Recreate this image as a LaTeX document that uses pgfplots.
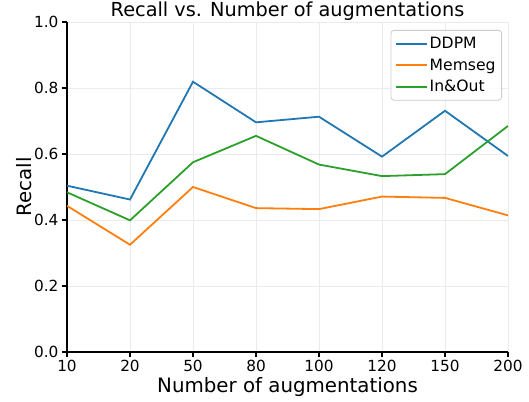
\documentclass[border=0pt]{standalone}
\usepackage{fontspec}
\setmainfont{DejaVu Sans}
\usepackage{pgfplots}
\pgfplotsset{compat=1.18}
\definecolor{cblue}{HTML}{1F77B4}
\definecolor{corange}{HTML}{FF7F0E}
\definecolor{cgreen}{HTML}{2CA02C}
\definecolor{gridc}{HTML}{EBEBEB}
\begin{document}
\begin{tikzpicture}[x=1bp,y=1bp]
\begin{axis}[
  at={(0,0)}, anchor=south west,
  width=441bp, height=330bp, scale only axis,
  xmin=0, xmax=7, ymin=0, ymax=1,
  axis x line*=bottom, axis y line*=left,
  axis line style={line width=1.1bp, black},
  xtick={0,1,2,3,4,5,6,7},
  xticklabels={10,20,50,80,100,120,150,200},
  ytick={0,0.2,0.4,0.6,0.8,1.0},
  yticklabel style={/pgf/number format/fixed, /pgf/number format/fixed zerofill, /pgf/number format/precision=1},
  /pgf/number format/assume math mode=true,
  tick label style={font=\fontsize{15.3bp}{17bp}\selectfont},
  tick align=outside, major tick length=5bp,
  tick style={line width=1.1bp, black},
  grid=major, grid style={line width=0.8bp, gridc},
  every axis title shift=0pt,
  title={Recall vs. Number of augmentations},
  title style={at={(axis description cs:0.5,1.018)}, anchor=base, yshift=0pt, font=\fontsize{19.3bp}{22bp}\selectfont, inner sep=0pt},
  xlabel={Number of augmentations},
  xlabel style={at={(axis description cs:0.5,-0.1242)}, anchor=base, font=\fontsize{19.8bp}{22bp}\selectfont, inner sep=0pt},
  ylabel={Recall},
  ylabel style={at={(axis description cs:-0.0794,0.5)}, anchor=base, font=\fontsize{19.8bp}{22bp}\selectfont, inner sep=0pt},
  legend style={at={(axis description cs:1,1)}, anchor=north east, xshift=-6bp, yshift=-8bp,
    font=\fontsize{15.6bp}{17bp}\selectfont, draw=black!20, rounded corners=3bp,
    fill=white, fill opacity=0.8, text opacity=1, inner xsep=4bp, inner ysep=5bp, row sep=4.5bp,
    line width=0.8bp, /tikz/every even column/.append style={column sep=5bp}},
  legend cell align=left,
  legend image code/.code={\draw[#1] (0bp,0bp) -- (31bp,0bp);},
]
\addplot[cblue, line width=1.8bp] coordinates {(0,0.504) (1,0.462) (2,0.819) (3,0.696) (4,0.713) (5,0.592) (6,0.731) (7,0.594)};
\addlegendentry{DDPM}
\addplot[corange, line width=1.8bp] coordinates {(0,0.443) (1,0.325) (2,0.500) (3,0.436) (4,0.433) (5,0.471) (6,0.467) (7,0.414)};
\addlegendentry{Memseg}
\addplot[cgreen, line width=1.8bp] coordinates {(0,0.484) (1,0.399) (2,0.575) (3,0.655) (4,0.568) (5,0.533) (6,0.539) (7,0.685)};
\addlegendentry{In\&Out}
\end{axis}
\pgfresetboundingbox
\useasboundingbox (-67,-49) rectangle (462,352);
\end{tikzpicture}
\end{document}
